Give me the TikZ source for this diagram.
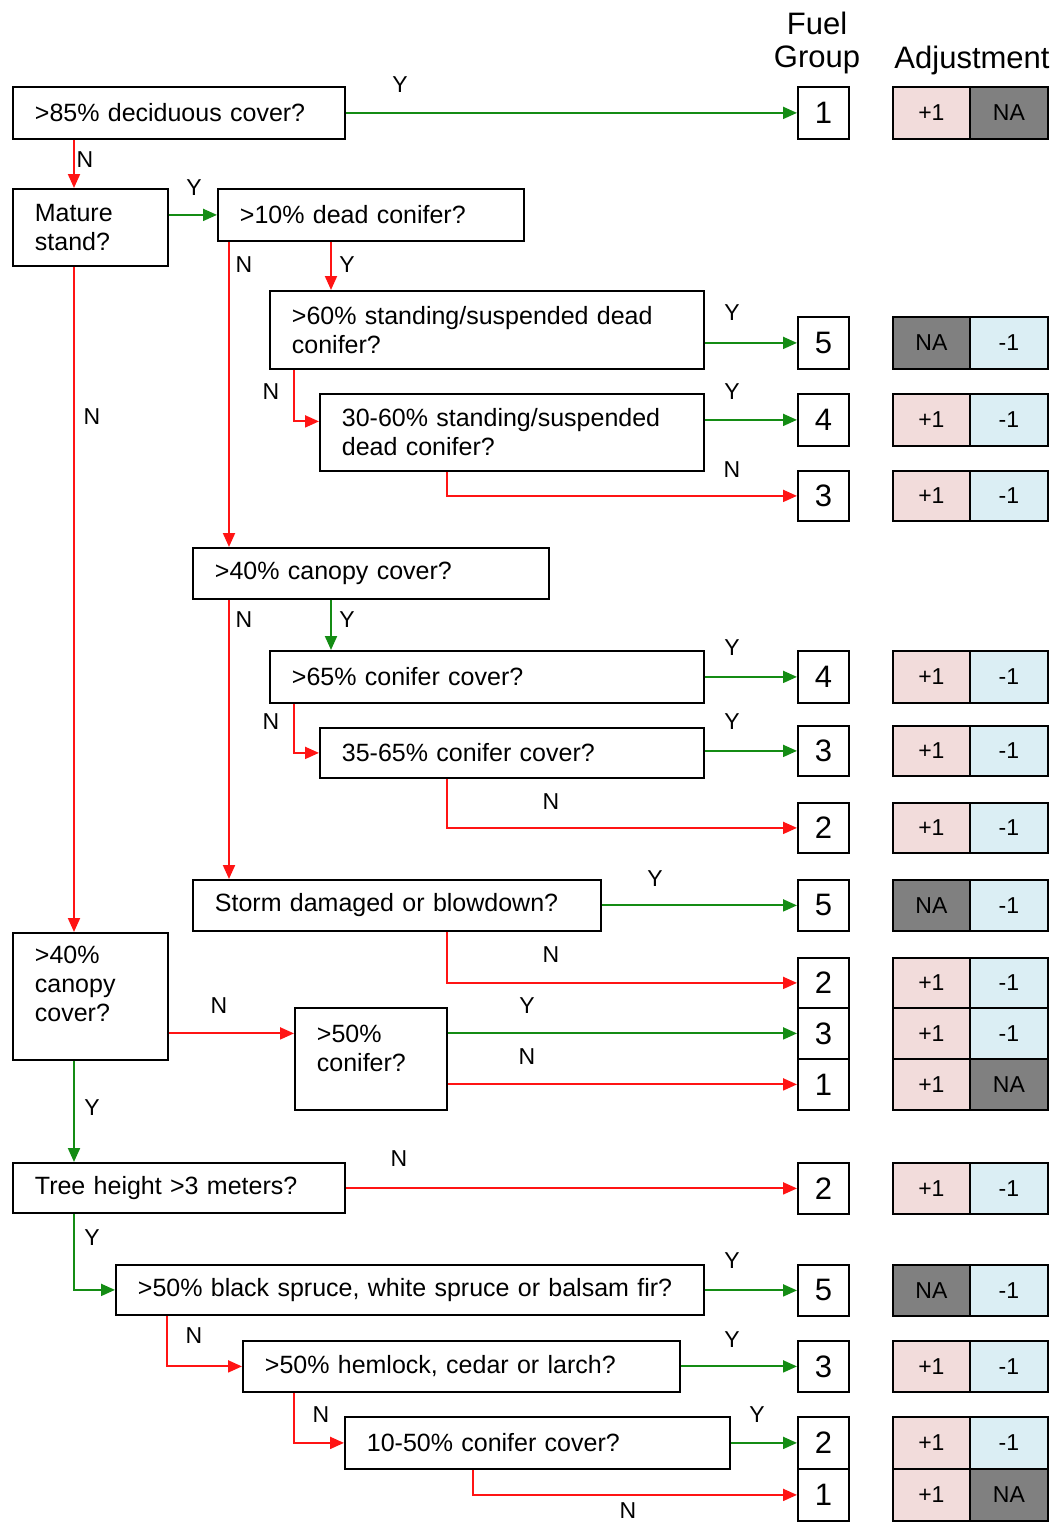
\documentclass[tikz,border=0pt]{standalone}
\usepackage{fontspec}
\setmainfont{Liberation Sans}
\usetikzlibrary{arrows.meta}
\definecolor{cpink}{RGB}{242,220,219}
\definecolor{cblue}{RGB}{219,238,244}
\definecolor{cgray}{RGB}{128,128,128}
\definecolor{cgreen}{RGB}{20,140,20}
\definecolor{cred}{RGB}{255,20,20}
\newcommand\qf{\fontsize{25}{29}\selectfont}
\newcommand\numf{\fontsize{31}{31}\selectfont}
\newcommand\adf{\fontsize{23}{23}\selectfont}
\newcommand\labf{\fontsize{23}{23}\selectfont}
\newcommand\hdf{\fontsize{31}{31}\selectfont}
\tikzset{
  qbox/.style={draw=black, line width=1.8pt, anchor=north west, inner xsep=22pt, inner ysep=0pt, align=left, font=\qf},
  fgbox/.style={draw=black, line width=1.8pt, anchor=north west, minimum width=51pt, inner sep=0pt, font=\numf},
  adjcell/.style={draw=black, line width=1.8pt, anchor=north west, inner sep=0pt, font=\adf},
  pinkc/.style={fill=cpink},
  bluec/.style={fill=cblue},
  grayc/.style={fill=cgray},
  yes/.style={draw=cgreen, line width=2pt, -{Triangle[length=14pt,width=12pt]}},
  no/.style={draw=cred, line width=2pt, -{Triangle[length=14pt,width=12pt]}},
  lab/.style={font=\labf, inner sep=0pt}
}
\newcommand\fgrow[8]{%
  \node[fgbox, minimum height=#3pt] (g#1) at (797,#2) {#4};
  \node[adjcell, #5, minimum width=77pt, minimum height=#3pt] (l#1) at (892,#2) {#6};
  \node[adjcell, #7, minimum width=78pt, minimum height=#3pt] (r#1) at (969,#2) {#8};
}
\begin{document}
\begin{tikzpicture}[x=1pt,y=-1pt]
\useasboundingbox (0,0) rectangle (1058,1524);
% headers
\node[font=\hdf, inner sep=0pt] (hfuel) at (817,23) {Fuel};
\node[font=\hdf, inner sep=0pt] (hgroup) at (817,60) {Group};
\node[font=\hdf, inner sep=0pt] (hadj) at (972,60) {Adjustment};
% fuel group + adjustment rows
\fgrow{1}{86}{52}{1}{pinkc}{+1}{grayc}{NA}
\fgrow{5a}{316}{52}{5}{grayc}{NA}{bluec}{-1}
\fgrow{4a}{393}{52}{4}{pinkc}{+1}{bluec}{-1}
\fgrow{3a}{470}{50}{3}{pinkc}{+1}{bluec}{-1}
\fgrow{4b}{650}{52}{4}{pinkc}{+1}{bluec}{-1}
\fgrow{3b}{725}{50}{3}{pinkc}{+1}{bluec}{-1}
\fgrow{2b}{802}{50}{2}{pinkc}{+1}{bluec}{-1}
\fgrow{5c}{879}{51}{5}{grayc}{NA}{bluec}{-1}
\fgrow{2c}{957}{50}{2}{pinkc}{+1}{bluec}{-1}
\fgrow{3c}{1007}{51}{3}{pinkc}{+1}{bluec}{-1}
\fgrow{1c}{1058}{51}{1}{pinkc}{+1}{grayc}{NA}
\fgrow{2d}{1162}{51}{2}{pinkc}{+1}{bluec}{-1}
\fgrow{5d}{1264}{51}{5}{grayc}{NA}{bluec}{-1}
\fgrow{3d}{1340}{51}{3}{pinkc}{+1}{bluec}{-1}
\fgrow{2e}{1416}{52}{2}{pinkc}{+1}{bluec}{-1}
\fgrow{1e}{1468}{52}{1}{pinkc}{+1}{grayc}{NA}
% question boxes
\node[qbox, text width=288pt, minimum height=52pt] (A) at (12,86) {>85\% deciduous cover?};
\node[qbox, text width=111pt, minimum height=77pt] (B) at (12,188) {Mature\\stand?};
\node[qbox, text width=262pt, minimum height=52pt] (C) at (217,188) {>10\% dead conifer?};
\node[qbox, text width=390pt, minimum height=78pt] (D) at (269,290) {>60\% standing/suspended dead\\conifer?};
\node[qbox, text width=340pt, minimum height=77pt] (E) at (319,393) {30-60\% standing/suspended\\dead conifer?};
\node[qbox, text width=312pt, minimum height=51pt] (F) at (192,547) {>40\% canopy cover?};
\node[qbox, text width=390pt, minimum height=52pt] (G) at (269,650) {>65\% conifer cover?};
\node[qbox, text width=340pt, minimum height=50pt] (H) at (319,727) {35-65\% conifer cover?};
\node[qbox, text width=364pt, minimum height=51pt] (I) at (192,879) {Storm damaged or blowdown?};
\node[qbox, text width=111pt, minimum height=127pt] (J) at (12,932) {>40\%\\canopy\\cover?\\[-3pt]\rule{0pt}{1pt}};
\node[qbox, text width=108pt, minimum height=102pt] (K) at (294,1007) {>50\%\\conifer?\\[-7pt]\rule{0pt}{1pt}};
\node[qbox, text width=288pt, minimum height=50pt] (L) at (12,1162) {Tree height >3 meters?};
\node[qbox, text width=544pt, minimum height=50pt] (M) at (115,1264) {>50\% black spruce, white spruce or balsam fir?};
\node[qbox, text width=393pt, minimum height=51pt] (N) at (242,1340) {>50\% hemlock, cedar or larch?};
\node[qbox, text width=341pt, minimum height=52pt] (O) at (344,1416) {10-50\% conifer cover?};
% helper coordinates
\coordinate (a1) at ([xshift=62pt]A.south west);
\coordinate (b1) at ([xshift=62pt]B.south west);
\coordinate (c1) at ([xshift=12pt]C.south west);
\coordinate (c2) at ([xshift=114pt]C.south west);
\coordinate (d1) at ([xshift=25pt]D.south west);
\coordinate (e0) at ([yshift=11pt]E.west);
\coordinate (e1) at ([xshift=128pt]E.south west);
\coordinate (f1) at ([xshift=37pt]F.south west);
\coordinate (f2) at ([xshift=139pt]F.south west);
\coordinate (gq1) at ([xshift=25pt]G.south west);
\coordinate (h1) at ([xshift=128pt]H.south west);
\coordinate (i1) at ([xshift=255pt]I.south west);
\coordinate (j1) at ([xshift=62pt]J.south west);
\coordinate (l1) at ([xshift=62pt]L.south west);
\coordinate (m1) at ([xshift=52pt]M.south west);
\coordinate (n1) at ([xshift=52pt]N.south west);
\coordinate (o1) at ([xshift=129pt]O.south west);
% connectors
\draw[yes] (A.east |- g1.west) -- (g1.west);
\draw[no] (a1) -- (a1 |- B.north);
\draw[yes] (B.east |- C.west) -- (C.west);
\draw[no] (c2) -- (c2 |- D.north);
\draw[no] (c1) -- (c1 |- F.north);
\draw[no] (b1) -- (b1 |- J.north);
\draw[yes] (D.east |- g5a.west) -- (g5a.west);
\draw[no] (d1) |- (e0);
\draw[yes] (E.east |- g4a.west) -- (g4a.west);
\draw[no] (e1) |- (g3a.west);
\draw[yes] (f2) -- (f2 |- G.north);
\draw[no] (f1) -- (f1 |- I.north);
\draw[yes] (G.east |- g4b.west) -- (g4b.west);
\draw[no] (gq1) |- (H.west);
\draw[yes] (H.east |- g3b.west) -- (g3b.west);
\draw[no] (h1) |- (g2b.west);
\draw[yes] (I.east |- g5c.west) -- (g5c.west);
\draw[no] (i1) |- (g2c.west);
\draw[no] (J.east |- g3c.west) -- (K.west |- g3c.west);
\draw[yes] (K.east |- g3c.west) -- (g3c.west);
\draw[no] (K.east |- g1c.west) -- (g1c.west);
\draw[yes] (j1) -- (j1 |- L.north);
\draw[no] (L.east |- g2d.west) -- (g2d.west);
\draw[yes] (l1) |- (M.west);
\draw[yes] (M.east |- g5d.west) -- (g5d.west);
\draw[no] (m1) |- (N.west);
\draw[yes] (N.east |- g3d.west) -- (g3d.west);
\draw[no] (n1) |- (O.west);
\draw[yes] (O.east |- g2e.west) -- (g2e.west);
\draw[no] (o1) |- (g1e.west);
% labels
\node[lab] (y1) at (400,85) {Y};
\node[lab] (n1l) at (85,160) {N};
\node[lab] (y2) at (194,188) {Y};
\node[lab] (y3) at (347,265) {Y};
\node[lab] (n3) at (244,265) {N};
\node[lab] (n2) at (92,417) {N};
\node[lab] (y4) at (732,313) {Y};
\node[lab] (n4) at (271,392) {N};
\node[lab] (y5) at (732,392) {Y};
\node[lab] (n5) at (732,470) {N};
\node[lab] (y6) at (347,620) {Y};
\node[lab] (n6) at (244,620) {N};
\node[lab] (y7) at (732,648) {Y};
\node[lab] (n7) at (271,722) {N};
\node[lab] (y8) at (732,722) {Y};
\node[lab] (n8) at (551,802) {N};
\node[lab] (y9) at (655,879) {Y};
\node[lab] (n9) at (551,955) {N};
\node[lab] (n10) at (219,1006) {N};
\node[lab] (y11) at (527,1006) {Y};
\node[lab] (n11) at (527,1057) {N};
\node[lab] (y12) at (92,1108) {Y};
\node[lab] (n12) at (399,1159) {N};
\node[lab] (y13) at (92,1238) {Y};
\node[lab] (y14) at (732,1261) {Y};
\node[lab] (n14) at (194,1336) {N};
\node[lab] (y15) at (732,1340) {Y};
\node[lab] (n15) at (321,1415) {N};
\node[lab] (y16) at (757,1415) {Y};
\node[lab] (n16) at (628,1511) {N};
\end{tikzpicture}
\end{document}
